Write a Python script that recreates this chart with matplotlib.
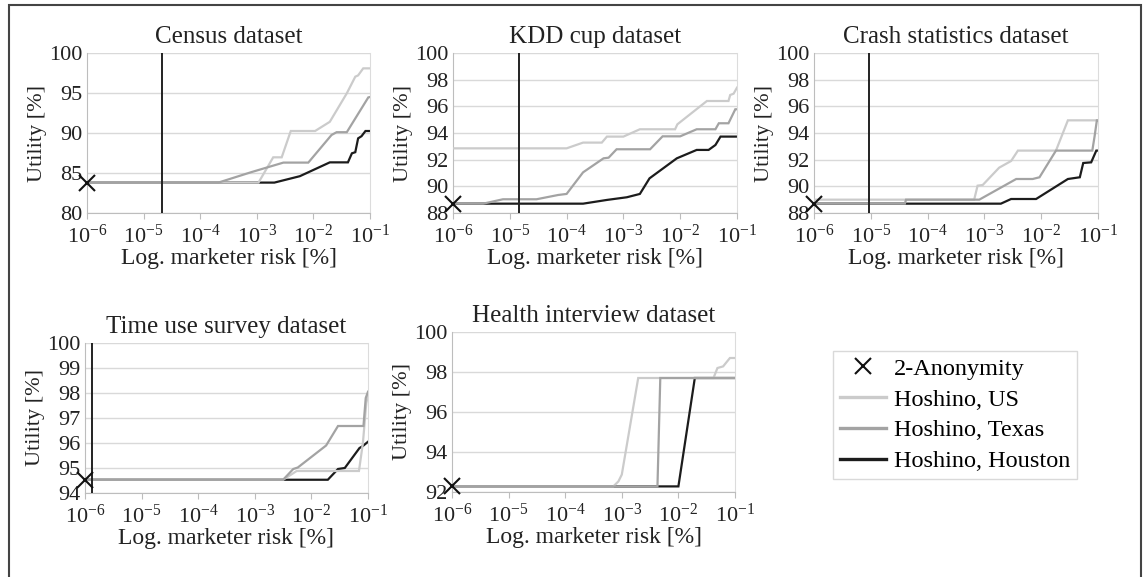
import numpy as np
import matplotlib
matplotlib.use('Agg')
import matplotlib.pyplot as plt
from matplotlib.lines import Line2D
from matplotlib.patches import Rectangle

plt.rcParams['font.family'] = ['Liberation Serif', 'DejaVu Serif']
plt.rcParams['mathtext.fontset'] = 'custom'
plt.rcParams['mathtext.rm'] = 'Liberation Serif'
plt.rcParams['mathtext.it'] = 'Liberation Serif'

# risk values stored as log10 exponents (percent), utility in percent
census_us_x = [-6, -2.97, -2.71, -2.56, -2.40, -1.97, -1.71, -1.41, -1.26, -1.21, -1.12, -1.0]
census_us_y = [83.8, 83.8, 86.96, 86.96, 90.25, 90.25, 91.4, 94.96, 97.04, 97.2, 98.08, 98.08]
census_tx_x = [-6, -3.68, -3.1, -2.53, -2.09, -1.68, -1.59, -1.41, -1.03, -1.0]
census_tx_y = [83.8, 83.8, 85.1, 86.3, 86.3, 89.75, 90.1, 90.1, 94.45, 94.5]
census_hou_x = [-6, -2.69, -2.24, -1.71, -1.39, -1.32, -1.26, -1.21, -1.15, -1.08, -1.0]
census_hou_y = [83.8, 83.8, 84.6, 86.33, 86.33, 87.46, 87.6, 89.33, 89.6, 90.25, 90.25]

kdd_us_x = [-6, -4.0, -3.71, -3.38, -3.29, -3.0, -2.71, -2.09, -2.05, -1.53, -1.15, -1.12, -1.06, -1.0]
kdd_us_y = [92.85, 92.85, 93.28, 93.28, 93.73, 93.73, 94.28, 94.28, 94.65, 96.4, 96.4, 96.85, 96.95, 97.4]
kdd_tx_x = [-6, -5.47, -5.12, -4.53, -4.15, -4.0, -3.71, -3.35, -3.26, -3.12, -2.53, -2.31, -2.0,
            -1.71, -1.38, -1.32, -1.15, -1.03, -1.0]
kdd_tx_y = [88.7, 88.7, 89.03, 89.03, 89.35, 89.43, 91.05, 92.1, 92.15, 92.78, 92.78, 93.75, 93.75,
            94.28, 94.28, 94.73, 94.73, 95.78, 95.78]
kdd_hou_x = [-6, -3.71, -3.29, -2.94, -2.71, -2.54, -2.06, -1.71, -1.5, -1.38, -1.29, -1.0]
kdd_hou_y = [88.7, 88.7, 88.98, 89.18, 89.43, 90.6, 92.1, 92.73, 92.73, 93.1, 93.73, 93.73]

crash_us_x = [-6, -3.18, -3.12, -3.03, -2.74, -2.53, -2.41, -1.74, -1.53, -1.0]
crash_us_y = [89.0, 89.0, 90.05, 90.1, 91.4, 91.9, 92.68, 92.68, 94.95, 94.95]
crash_tx_x = [-6, -4.4, -4.38, -3.09, -2.44, -2.15, -2.03, -1.74, -1.1, -1.06, -1.02, -1.0]
crash_tx_y = [88.7, 88.7, 89.0, 89.0, 90.55, 90.55, 90.68, 92.68, 92.68, 93.75, 94.95, 94.95]
crash_hou_x = [-6, -2.71, -2.53, -2.09, -1.53, -1.32, -1.26, -1.12, -1.03, -1.0]
crash_hou_y = [88.7, 88.7, 89.05, 89.05, 90.55, 90.68, 91.75, 91.8, 92.68, 92.68]

time_us_x = [-6, -2.5, -2.26, -1.16, -1.09, -1.03, -1.0]
time_us_y = [94.53, 94.53, 94.88, 94.88, 96.0, 97.6, 97.9]
time_tx_x = [-6, -2.5, -2.32, -2.24, -1.74, -1.53, -1.08, -1.04, -1.0]
time_tx_y = [94.53, 94.53, 94.96, 95.02, 95.9, 96.68, 96.68, 97.8, 98.05]
time_hou_x = [-6, -1.71, -1.53, -1.41, -1.15, -1.09, -1.0]
time_hou_y = [94.53, 94.53, 94.96, 95.0, 95.8, 95.88, 96.05]

health_us_x = [-6, -3.15, -3.06, -3.0, -2.85, -2.71, -1.38, -1.31, -1.21, -1.09, -1.0]
health_us_y = [92.28, 92.28, 92.53, 92.87, 95.37, 97.7, 97.7, 98.2, 98.28, 98.7, 98.7]
health_tx_x = [-6, -2.37, -2.32, -1.0]
health_tx_y = [92.28, 92.28, 97.7, 97.7]
health_hou_x = [-6, -2.0, -1.71, -1.0]
health_hou_y = [92.28, 92.28, 97.7, 97.7]

titles = ['Census dataset', 'KDD cup dataset', 'Crash statistics dataset',
          'Time use survey dataset', 'Health interview dataset']
anon_utility = [83.8, 88.7, 88.7, 94.53, 92.28]
anon_risk_exp = [-4.675, -4.84, -5.03, -5.876, None]
y_ranges = [(80, 100, 5), (88, 100, 2), (88, 100, 2), (94, 100, 1), (92, 100, 2)]
x_ticks = [-6, -5, -4, -3, -2, -1]

series = [
    [(census_us_x, census_us_y), (census_tx_x, census_tx_y), (census_hou_x, census_hou_y)],
    [(kdd_us_x, kdd_us_y), (kdd_tx_x, kdd_tx_y), (kdd_hou_x, kdd_hou_y)],
    [(crash_us_x, crash_us_y), (crash_tx_x, crash_tx_y), (crash_hou_x, crash_hou_y)],
    [(time_us_x, time_us_y), (time_tx_x, time_tx_y), (time_hou_x, time_hou_y)],
    [(health_us_x, health_us_y), (health_tx_x, health_tx_y), (health_hou_x, health_hou_y)],
]
colors = ['#cbcbcb', '#a3a3a3', '#1c1c1c']
zorders = [3, 4, 2]
labels = ['Hoshino, US', 'Hoshino, Texas', 'Hoshino, Houston']

W, H = 1146, 577
# axes boxes in pixels: x0, x1, ytop, ybottom
boxes = [(87, 370, 53, 213), (453, 737, 53, 213), (814, 1098, 53, 213),
         (85, 368, 343, 493), (452, 735, 332, 492)]

fig = plt.figure(figsize=(W / 100, H / 100), dpi=100)

for i, (x0, x1, yt, yb) in enumerate(boxes):
    ax = fig.add_axes([x0 / W, 1 - yb / H, (x1 - x0) / W, (yb - yt) / H])
    ax.set_xscale('log')
    for j, (xs, ys) in enumerate(series[i]):
        ax.plot(10.0 ** np.array(xs), ys, color=colors[j], lw=1.6, zorder=zorders[j],
                solid_joinstyle='miter')
    if anon_risk_exp[i] is not None:
        ax.axvline(10.0 ** anon_risk_exp[i], color='#222222', lw=1.4, zorder=5)
    ax.plot([1e-6], [anon_utility[i]], marker='x', color='#111111', ms=12, mew=1.5,
            ls='none', clip_on=False, zorder=6)
    lo, hi, step = y_ranges[i]
    ax.set_ylim(lo, hi)
    ax.set_yticks(np.arange(lo, hi + 0.1, step))
    ax.set_xlim(1e-6, 1e-1)
    ax.set_xticks([10.0 ** e for e in x_ticks])
    ax.set_xticklabels([r'$10^{%d}$' % e for e in x_ticks])
    ax.minorticks_off()
    ax.grid(axis='y', color='#d9d9d9', lw=1)
    ax.set_axisbelow(True)
    for s in ['left', 'bottom']:
        ax.spines[s].set_color('#bdbdbd')
    ax.spines['right'].set_color('#dcdcdc')
    ax.spines['top'].set_visible(False)
    ax.tick_params(axis='y', length=0, labelsize=16, pad=3, colors='#222222')
    ax.tick_params(axis='x', length=4, color='#bdbdbd', labelsize=16, pad=4, labelcolor='#222222')
    ax.set_title(titles[i], fontsize=18, pad=7, color='#222222')
    ax.set_ylabel('Utility [%]', fontsize=16, labelpad=2, color='#222222')
    ax.set_xlabel('Log. marketer risk [%]', fontsize=17, labelpad=0.5, color='#222222')

handles = [Line2D([], [], marker='x', color='#111111', ls='none', ms=11, mew=1.5)]
handles += [Line2D([], [], color=c, lw=2.4) for c in colors]
fig.legend(handles, ['2-Anonymity'] + labels, loc='center',
           bbox_to_anchor=(955 / W, 1 - 415 / H), fontsize=17.5, frameon=True,
           fancybox=False, edgecolor='#d0d0d0', handlelength=1.9, handletextpad=0.3,
           labelspacing=0.36, borderpad=0.3, borderaxespad=0)

fig.patches.append(Rectangle((9 / W, -0.02), (1141 - 9) / W, 1.02 - 5 / H,
                             transform=fig.transFigure, fill=False, edgecolor='#444444',
                             lw=1.5))

plt.savefig('out.png', dpi=100)
